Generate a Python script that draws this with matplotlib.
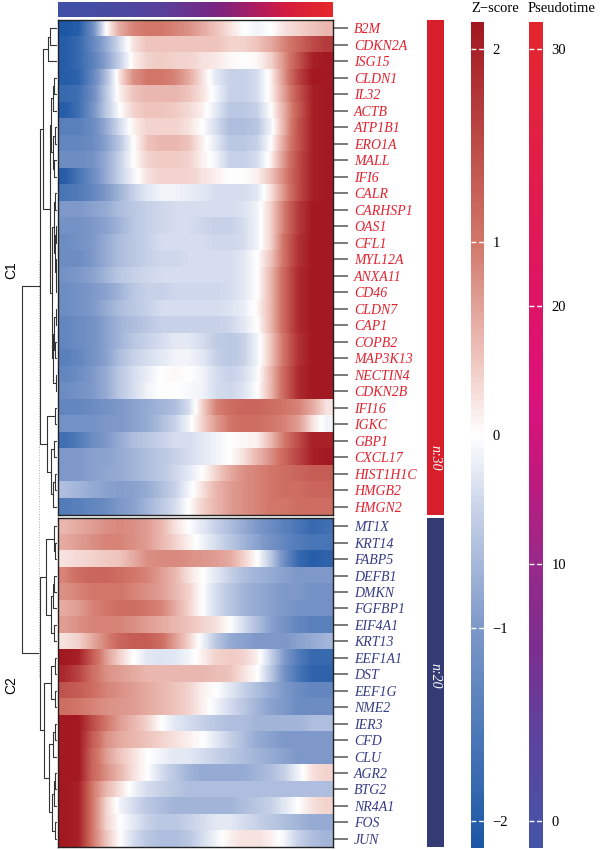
import numpy as np
import matplotlib
matplotlib.use("Agg")
import matplotlib.pyplot as plt
from matplotlib.colors import LinearSegmentedColormap, Normalize
from matplotlib.cm import ScalarMappable

# ---------------- data ----------------
genes_c1 = ["B2M", "CDKN2A", "ISG15", "CLDN1", "IL32", "ACTB", "ATP1B1", "ERO1A", "MALL", "IFI6",
            "CALR", "CARHSP1", "OAS1", "CFL1", "MYL12A", "ANXA11", "CD46", "CLDN7", "CAP1", "COPB2",
            "MAP3K13", "NECTIN4", "CDKN2B", "IFI16", "IGKC", "GBP1", "CXCL17", "HIST1H1C", "HMGB2", "HMGN2"]
genes_c2 = ["MT1X", "KRT14", "FABP5", "DEFB1", "DMKN", "FGFBP1", "EIF4A1", "KRT13", "EEF1A1", "DST",
            "EEF1G", "NME2", "IER3", "CFD", "CLU", "AGR2", "BTG2", "NR4A1", "FOS", "JUN"]

z_c1 = [
    [-2.1,-2.0,-1.2,0.0,0.6,0.9,1.0,1.0,0.9,0.8,0.6,0.4,0.2,0.0,-0.1,0.0,0.2,0.3,0.4,0.5],
    [-2.0,-1.8,-1.3,-0.8,-0.3,0.2,0.4,0.4,0.4,0.4,0.4,0.4,0.3,0.3,0.4,0.6,0.9,1.2,1.5,1.7],
    [-2.0,-1.8,-1.4,-0.9,-0.4,0.1,0.3,0.35,0.3,0.3,0.2,0.15,0.05,0.0,0.05,0.3,0.8,1.4,2.0,2.1],
    [-2.0,-1.9,-1.3,-0.6,0.2,0.8,1.0,1.0,0.9,0.6,0.2,-0.2,-0.4,-0.4,-0.3,0.1,0.8,1.6,2.1,2.1],
    [-1.8,-1.7,-1.2,-0.5,0.1,0.4,0.5,0.5,0.5,0.4,0.2,-0.1,-0.4,-0.4,-0.3,0.1,0.7,1.4,2.0,2.1],
    [-2.0,-1.7,-1.1,-0.5,0.0,0.3,0.4,0.4,0.35,0.25,0.1,-0.2,-0.5,-0.5,-0.4,0.0,0.6,1.3,2.0,2.1],
    [-1.4,-1.4,-1.2,-0.8,-0.3,0.1,0.3,0.3,0.3,0.2,0.0,-0.3,-0.6,-0.6,-0.5,-0.1,0.6,1.4,2.0,2.1],
    [-1.3,-1.3,-1.2,-0.9,-0.5,0.0,0.4,0.5,0.5,0.4,0.1,-0.2,-0.5,-0.5,-0.4,0.0,0.7,1.4,2.0,2.1],
    [-1.2,-1.2,-1.1,-0.8,-0.4,0.0,0.3,0.35,0.35,0.3,0.1,-0.1,-0.4,-0.4,-0.3,0.1,0.8,1.5,2.0,2.1],
    [-2.0,-1.6,-1.2,-0.8,-0.4,-0.1,0.2,0.3,0.3,0.3,0.2,0.1,0.0,0.0,0.1,0.4,0.9,1.5,2.0,2.1],
    [-1.6,-1.5,-1.3,-1.0,-0.7,-0.4,-0.2,-0.1,-0.1,-0.15,-0.2,-0.3,-0.3,-0.3,-0.2,0.2,0.8,1.5,2.0,2.1],
    [-1.0,-1.0,-0.9,-0.8,-0.6,-0.5,-0.4,-0.35,-0.3,-0.3,-0.3,-0.3,-0.3,-0.25,-0.1,0.3,1.0,1.7,2.1,2.1],
    [-1.1,-1.1,-1.0,-0.9,-0.7,-0.5,-0.4,-0.35,-0.3,-0.3,-0.35,-0.4,-0.4,-0.3,-0.1,0.3,1.0,1.7,2.1,2.1],
    [-1.2,-1.1,-1.0,-0.8,-0.6,-0.5,-0.4,-0.3,-0.3,-0.3,-0.3,-0.35,-0.35,-0.3,-0.1,0.3,1.1,1.8,2.1,2.1],
    [-1.2,-1.2,-1.0,-0.8,-0.6,-0.5,-0.4,-0.35,-0.35,-0.3,-0.3,-0.3,-0.3,-0.2,0.0,0.4,1.1,1.8,2.1,2.1],
    [-1.1,-1.0,-0.9,-0.7,-0.5,-0.4,-0.35,-0.3,-0.3,-0.3,-0.3,-0.3,-0.3,-0.2,0.0,0.5,1.2,1.9,2.1,2.1],
    [-1.2,-1.1,-1.0,-0.9,-0.7,-0.5,-0.4,-0.4,-0.35,-0.35,-0.35,-0.35,-0.3,-0.2,0.0,0.5,1.2,1.9,2.1,2.1],
    [-1.2,-1.1,-1.0,-0.8,-0.6,-0.5,-0.4,-0.3,-0.3,-0.3,-0.3,-0.3,-0.25,-0.15,0.05,0.5,1.2,1.9,2.1,2.1],
    [-1.3,-1.2,-1.1,-0.9,-0.7,-0.6,-0.5,-0.4,-0.4,-0.4,-0.4,-0.4,-0.35,-0.2,0.0,0.5,1.2,1.9,2.1,2.1],
    [-1.3,-1.2,-1.1,-0.9,-0.7,-0.5,-0.4,-0.3,-0.2,-0.2,-0.3,-0.45,-0.5,-0.4,-0.1,0.4,1.1,1.8,2.1,2.1],
    [-1.4,-1.3,-1.1,-0.9,-0.6,-0.4,-0.3,-0.2,-0.1,-0.1,-0.2,-0.4,-0.5,-0.4,-0.1,0.4,1.1,1.8,2.1,2.1],
    [-1.3,-1.2,-1.0,-0.8,-0.5,-0.3,-0.15,0.0,0.05,0.0,-0.1,-0.3,-0.4,-0.3,-0.05,0.5,1.2,1.9,2.1,2.1],
    [-1.2,-1.1,-1.0,-0.8,-0.5,-0.3,-0.1,0.0,0.0,-0.05,-0.1,-0.3,-0.35,-0.25,0.0,0.5,1.2,1.9,2.1,2.1],
    [-1.3,-1.3,-1.2,-1.1,-1.0,-0.9,-0.8,-0.7,-0.6,-0.3,0.3,0.9,1.1,1.2,1.2,1.1,1.0,0.9,0.6,0.2],
    [-1.1,-1.1,-1.1,-1.0,-1.0,-0.9,-0.8,-0.6,-0.4,-0.1,0.3,0.7,1.0,1.1,1.1,1.0,0.9,0.7,0.2,-0.1],
    [-1.7,-1.5,-1.2,-1.0,-0.8,-0.6,-0.5,-0.4,-0.3,-0.3,-0.2,-0.1,0.0,0.05,0.1,0.5,1.0,1.5,2.0,2.0],
    [-1.0,-1.0,-0.9,-0.9,-0.8,-0.7,-0.6,-0.5,-0.4,-0.3,-0.2,-0.1,0.0,0.2,0.5,0.8,1.2,1.6,2.0,2.1],
    [-1.0,-1.0,-0.9,-0.85,-0.8,-0.7,-0.6,-0.5,-0.35,-0.2,0.0,0.3,0.6,0.8,0.9,1.0,1.1,1.2,1.3,1.3],
    [-0.6,-0.7,-0.8,-0.9,-0.95,-0.9,-0.8,-0.6,-0.4,-0.1,0.2,0.5,0.7,0.8,0.9,1.0,1.1,1.1,1.2,1.2],
    [-1.5,-1.4,-1.3,-1.2,-1.0,-0.9,-0.7,-0.5,-0.3,0.0,0.3,0.5,0.7,0.8,0.9,1.0,1.0,1.1,1.1,1.1],
]
z_c2 = [
    [0.5,0.6,0.7,0.8,0.85,0.8,0.7,0.5,0.2,0.0,-0.2,-0.4,-0.6,-0.8,-1.0,-1.2,-1.4,-1.6,-1.8,-1.7],
    [0.6,0.7,0.8,0.9,0.9,0.8,0.7,0.5,0.3,0.1,-0.1,-0.3,-0.5,-0.7,-0.9,-1.1,-1.3,-1.5,-1.6,-1.6],
    [0.2,0.25,0.3,0.35,0.4,0.6,0.8,0.85,0.85,0.8,0.75,0.7,0.6,0.3,0.0,-0.5,-1.2,-1.8,-2.0,-1.9],
    [0.9,1.1,1.2,1.2,1.1,1.0,0.9,0.7,0.5,0.2,0.0,-0.2,-0.4,-0.6,-0.7,-0.8,-0.9,-1.0,-1.0,-1.0],
    [0.8,0.9,1.0,1.0,1.0,0.9,0.8,0.7,0.5,0.3,0.0,-0.3,-0.5,-0.7,-0.8,-0.9,-1.0,-1.0,-1.1,-1.1],
    [0.6,0.7,0.9,1.0,1.1,1.1,1.0,0.9,0.6,0.3,0.0,-0.3,-0.5,-0.7,-0.8,-0.9,-1.0,-1.1,-1.1,-1.1],
    [0.7,0.8,0.9,0.9,0.9,0.8,0.7,0.6,0.5,0.4,0.3,0.2,0.0,-0.3,-0.6,-0.9,-1.1,-1.3,-1.4,-1.4],
    [0.2,0.3,0.6,0.9,1.2,1.3,1.3,1.1,0.7,0.3,-0.1,-0.5,-0.8,-0.9,-1.0,-1.0,-1.0,-0.9,-0.8,-0.7],
    [2.1,2.0,1.3,0.7,0.3,0.0,-0.2,-0.25,-0.2,-0.1,0.1,0.3,0.35,0.3,0.1,-0.4,-1.0,-1.5,-1.8,-1.8],
    [1.9,1.6,1.1,0.8,0.7,0.6,0.5,0.5,0.5,0.5,0.5,0.45,0.4,0.2,0.0,-0.5,-1.1,-1.6,-1.9,-1.9],
    [1.4,1.3,1.1,0.9,0.8,0.7,0.6,0.5,0.4,0.3,0.1,0.0,-0.2,-0.4,-0.6,-0.8,-1.0,-1.2,-1.3,-1.3],
    [1.1,1.0,0.9,0.8,0.75,0.7,0.6,0.5,0.4,0.3,0.1,-0.1,-0.3,-0.5,-0.7,-0.9,-1.0,-1.2,-1.2,-1.2],
    [2.1,2.1,1.5,1.0,0.7,0.5,0.3,0.0,-0.2,-0.3,-0.4,-0.5,-0.6,-0.6,-0.7,-0.7,-0.7,-0.7,-0.6,-0.6],
    [2.1,2.1,1.3,0.8,0.6,0.5,0.4,0.3,0.2,0.1,0.0,-0.2,-0.4,-0.6,-0.8,-0.9,-1.0,-1.0,-1.0,-1.0],
    [2.1,2.1,1.2,0.7,0.4,0.2,0.0,-0.1,-0.2,-0.2,-0.3,-0.4,-0.5,-0.6,-0.7,-0.8,-0.9,-1.0,-1.0,-1.0],
    [2.1,2.1,1.2,0.8,0.5,0.2,0.0,-0.3,-0.5,-0.7,-0.8,-0.8,-0.8,-0.8,-0.7,-0.6,-0.4,-0.1,0.2,0.3],
    [2.1,2.0,1.0,0.5,0.2,-0.1,-0.3,-0.4,-0.5,-0.6,-0.6,-0.6,-0.6,-0.6,-0.6,-0.6,-0.6,-0.6,-0.6,-0.6],
    [2.1,2.0,1.0,0.3,-0.1,-0.3,-0.5,-0.6,-0.7,-0.7,-0.7,-0.7,-0.7,-0.6,-0.5,-0.4,-0.2,0.0,0.2,0.3],
    [2.1,2.0,1.0,0.3,0.0,-0.2,-0.4,-0.5,-0.5,-0.4,-0.3,-0.2,-0.2,-0.3,-0.4,-0.5,-0.6,-0.7,-0.8,-0.8],
    [2.1,2.0,1.0,0.4,0.0,-0.3,-0.5,-0.6,-0.6,-0.5,-0.3,-0.1,0.1,0.2,0.2,0.1,-0.1,-0.4,-0.6,-0.7],
]
# pseudotime of each column bin (top annotation bar)
pseudotime_cols = [0, 1, 2, 3, 4.5, 6, 7.5, 9, 10.5, 12, 13.5, 15, 16.5, 18, 20, 22, 24.5, 27, 29, 31]

z_ticks = [-2, -1, 0, 1, 2]
pt_ticks = [0, 10, 20, 30]
cluster_names = ["C1", "C2"]
cluster_sizes = [30, 20]

# dendrogram topology (leaf indices, merge height)
A = ((0, 1, 2.0), 2, 2.57)
B = (((3, 4, 0.8), 5, 1.1), ((6, 7, 0.5), (8, 9, 0.9), 1.2), 1.6)
C = (((10, 11, 0.6), ((12, 13, 0.3), (14, (15, 16, 0.2), 0.4), 0.7), 1.0),
     (((17, 18, 0.3), (19, 20, 0.5), 0.8), (21, 22, 0.4), 1.1), 1.43)
X = (B, C, 2.0)
D = ((23, 24, 0.5), ((25, 26, 0.9), ((27, 28, 0.6), 29, 1.1), 1.6), 2.86)
TREE_C1 = ((A, X, 4.0), D, 4.86)
E = ((30, (31, 32, 0.5), 1.0), (((33, 34, 0.8), 35, 1.1), (36, 37, 0.9), 1.6), 3.14)
F1 = ((38, 39, 0.6), (40, 41, 0.7), 1.6)
F2 = (((42, 43, 0.7), 44, 1.1), (((45, 46, 0.5), 47, 0.8), (48, 49, 0.6), 1.3), 2.3)
TREE_C2 = (E, (F1, F2, 3.71), 4.86)
ROOT_H = 10.0

# ---------------- styles ----------------
W, H = 600, 850
serif = ["Liberation Serif", "DejaVu Serif"]
plt.rcParams["font.family"] = serif

z_cmap = LinearSegmentedColormap.from_list("z", [
    (0.0, "#1a56a5"), (0.265, "#7d98c9"), (0.41, "#c9d3e9"), (0.5, "#ffffff"),
    (0.59, "#efc6bf"), (0.735, "#d27669"), (1.0, "#a2161f")])
z_norm = Normalize(-2.14, 2.14)
pt_cmap = LinearSegmentedColormap.from_list("pt", [
    (0.0, "#4454a8"), (0.12, "#5a45a0"), (0.24, "#7b2e90"), (0.34, "#962a8a"),
    (0.45, "#c0187e"), (0.55, "#dd117a"), (0.70, "#df1660"), (0.85, "#e11f45"), (1.0, "#e3262c")])
bar_cmap = LinearSegmentedColormap.from_list("bar", [
    (0.0, "#4050a6"), (0.3, "#5a3f9a"), (0.48, "#7a2583"), (0.65, "#b01c5c"),
    (0.8, "#d41c40"), (1.0, "#e3272b")])
pt_norm = Normalize(-1.05, 31.05)
c_red, c_blue = "#d71f2b", "#333a74"
lab_red, lab_blue = "#e1222f", "#353c84"


def fax(x0, y0, x1, y1):
    """axes from pixel box (top-left origin)"""
    return fig.add_axes([x0 / W, 1 - y1 / H, (x1 - x0) / W, (y1 - y0) / H])


fig = plt.figure(figsize=(6, 8.5), dpi=100)

# top pseudotime bar
axb = fax(58, 2, 333, 17)
axb.imshow(np.array([pseudotime_cols]), cmap=bar_cmap, norm=Normalize(0, 31),
           aspect="auto", interpolation="bilinear", extent=(0, len(pseudotime_cols), 1, 0))
axb.set_axis_off()

ncol = len(z_c1[0])
panels = [(20, 515, z_c1, genes_c1, lab_red), (518, 847, z_c2, genes_c2, lab_blue)]
for (y0, y1, z, genes, lc) in panels:
    ax = fax(58, y0, 333, y1)
    for i, row in enumerate(z):
        ax.imshow(np.array([row]), cmap=z_cmap, norm=z_norm, aspect="auto",
                  interpolation="bilinear", extent=(0, ncol, i + 1, i))
    ax.set_xlim(0, ncol)
    ax.set_ylim(len(z), 0)
    ax.set_xticks([])
    ax.set_yticks(np.arange(len(z)) + 0.5)
    ax.set_yticklabels(genes, fontstyle="italic", fontsize=10, color=lc)
    ax.yaxis.tick_right()
    ax.tick_params(axis="y", length=11, width=1.3, color="#707070", pad=4, left=False)
    for s in ax.spines.values():
        s.set_linewidth(1.0)
        s.set_color("#222222")

# cluster bars
for (y0, y1), n, col, tpos in zip([(20, 515), (518, 847)], cluster_sizes, [c_red, c_blue], [0.115, 0.52]):
    ax = fax(427, y0, 444, y1)
    ax.bar([0], [n], width=1, color=col)
    ax.set_xlim(-0.5, 0.5)
    ax.set_ylim(n, 0)
    ax.set_axis_off()
    ax.text(0, n * tpos * 1.0 if False else n * (1 - tpos), f"n:{n}", rotation=-90, color="white",
            ha="center", va="center", fontsize=10, fontstyle="italic")

# colorbars
for (x0, x1), cmap, norm, ticks, title, tx in [
        ((471, 484), z_cmap, z_norm, z_ticks, "Z\u2212score", 495),
        ((529, 543), pt_cmap, pt_norm, pt_ticks, "Pseudotime", 562)]:
    cax = fax(x0, 22, x1, 848)
    cb = fig.colorbar(ScalarMappable(norm=norm, cmap=cmap), cax=cax)
    cb.outline.set_visible(False)
    cb.set_ticks(ticks)
    cax.tick_params(length=0, pad=6, labelsize=10.5)
    cax.hlines(ticks, 0, 1, colors="white", linestyles=(0, (3.5, 2)), linewidth=1.0)
    fig.text(tx / W, 1 - 9 / H, title, ha="center", va="center", fontsize=10.5)

# dendrogram
axd = fax(0, 20, 57, 847)
ypos = {}
for i in range(30):
    ypos[i] = 20 + (i + 0.5) * 495 / 30
for j in range(20):
    ypos[30 + j] = 518 + (j + 0.5) * 329 / 20


def draw(node):
    if isinstance(node, int):
        return ypos[node], 0.0
    l, r, h = node
    yl, hl = draw(l)
    yr, hr = draw(r)
    axd.plot([hl, h, h, hr], [yl, yl, yr, yr], color="#333333", lw=0.8, solid_capstyle="butt")
    return (yl + yr) / 2, h


y1c, h1 = draw(TREE_C1)
y2c, h2 = draw(TREE_C2)
axd.plot([h1, ROOT_H, ROOT_H, h2], [y1c, y1c, y2c, y2c], color="#333333", lw=0.8)
axd.plot([h1 * 1.05] * 2, [y1c - 25, y2c + 25], color="#aaaaaa", lw=0.7, linestyle=":")
axd.set_xlim(16.29, 0)
axd.set_ylim(847, 20)
axd.set_axis_off()

for name, yc in zip(cluster_names, [270, 685]):
    fig.text(11 / W, 1 - yc / H, name, rotation=90, ha="center", va="center",
             fontsize=10, family=["Liberation Sans", "DejaVu Sans"])

fig.savefig("out.png", dpi=100)
